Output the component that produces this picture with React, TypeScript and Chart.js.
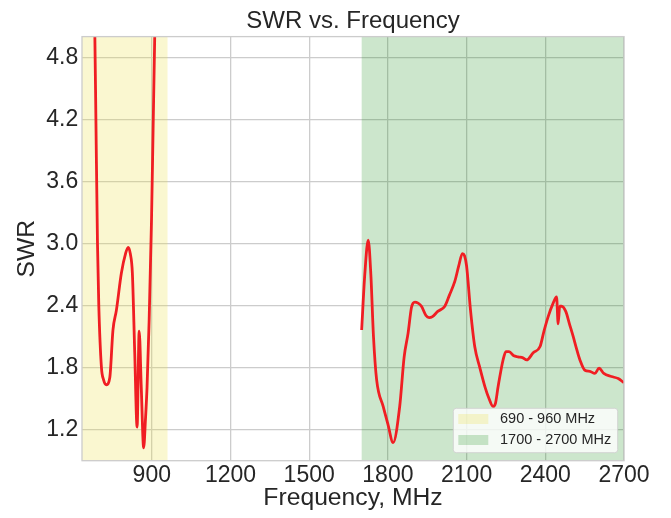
import React, { useEffect, useRef } from "react";
import { Chart, registerables } from "chart.js";

Chart.register(...registerables);

// ---- data ----
const freqMHz = [
  640, 683, 687, 693, 698, 708, 716, 727, 740, 752, 765, 784, 800, 810, 818, 826, 835, 844, 852, 860, 869, 876,
  882, 890, 899, 905, 911, 930,
  1300,
  1700, 1712, 1725, 1735, 1745, 1757, 1782, 1800, 1820, 1845, 1862, 1877, 1890, 1903, 1915, 1928, 1945, 1957,
  1970, 1990, 2017, 2035, 2055, 2070, 2084, 2092, 2100, 2115, 2131, 2150, 2170, 2185, 2201, 2210, 2220, 2239,
  2250, 2262, 2280, 2296, 2315, 2329, 2354, 2380, 2395, 2411, 2430, 2443, 2449, 2455, 2462, 2478, 2492, 2506,
  2520, 2532, 2551, 2570, 2589, 2605, 2623, 2652, 2678, 2700,
];
const swr: (number | null)[] = [
  9.0, 5.0, 4.2, 3.0, 2.4, 1.8, 1.68, 1.63, 1.7, 2.16, 2.35, 2.71, 2.9, 2.96, 2.9, 2.71, 1.94, 1.22, 2.15, 1.6, 1.02, 1.3,
  1.61, 2.26, 3.23, 4.1, 4.97, 8.0,
  null,
  2.16, 2.7, 3.03, 2.7, 2.1, 1.68, 1.42, 1.25, 1.07, 1.42, 1.9, 2.13, 2.38, 2.43, 2.42, 2.39, 2.3, 2.28,
  2.29, 2.34, 2.39, 2.5, 2.63, 2.78, 2.9, 2.88, 2.78, 2.35, 2.0, 1.8, 1.61, 1.5, 1.42, 1.45, 1.61, 1.87,
  1.95, 1.95, 1.91, 1.9, 1.89, 1.87, 1.94, 2.0, 2.15, 2.29, 2.42, 2.48, 2.22, 2.39, 2.39, 2.34, 2.22, 2.1,
  1.97, 1.87, 1.77, 1.76, 1.74, 1.79, 1.74, 1.71, 1.69, 1.65,
];
const xTicks = [900, 1200, 1500, 1800, 2100, 2400, 2700];
const yTicks = [1.2, 1.8, 2.4, 3.0, 3.6, 4.2, 4.8];
const xRange = [634, 2700];
const yRange = [0.895, 5.0];
const bandStarts = [634, 1700];
const bandEnds = [960, 2700];
const bandLabels = ["690 - 960 MHz", "1700 - 2700 MHz"];

// ---- styles ----
const FONT = "'Liberation Sans', Arial, sans-serif";
const TEXT = "#262626";
const GRID = "#cccccc";
const bandColors = ["rgba(235,223,67,0.25)", "rgba(0,128,0,0.2)"];
const LINE = "#f01e23";

const bandsPlugin = {
  id: "bands",
  beforeDatasetsDraw(chart: any) {
    const { ctx, chartArea: a, scales } = chart;
    const x = scales.x;
    ctx.save();
    bandStarts.forEach((s, i) => {
      const x0 = Math.max(x.getPixelForValue(s), a.left);
      const x1 = Math.min(x.getPixelForValue(bandEnds[i]), a.right);
      ctx.fillStyle = bandColors[i];
      ctx.fillRect(x0, a.top, x1 - x0, a.bottom - a.top);
    });
    ctx.restore();
  },
};

const framePlugin = {
  id: "frame",
  afterDatasetsDraw(chart: any) {
    const { ctx, chartArea: a } = chart;
    ctx.save();
    ctx.strokeStyle = GRID;
    ctx.lineWidth = 1.3;
    ctx.strokeRect(a.left, a.top, a.right - a.left, a.bottom - a.top);
    ctx.restore();
  },
};

const legendPlugin = {
  id: "customLegend",
  afterDraw(chart: any) {
    const { ctx, chartArea: a } = chart;
    const w = 164.4;
    const h = 44.4;
    const bx = a.right - 6.3 - w;
    const by = a.bottom - 8 - h;
    ctx.save();
    ctx.beginPath();
    (ctx as any).roundRect(bx, by, w, h, 3);
    ctx.fillStyle = "rgba(255,255,255,0.8)";
    ctx.fill();
    ctx.strokeStyle = "rgba(204,204,204,0.8)";
    ctx.lineWidth = 1;
    ctx.stroke();
    bandLabels.forEach((label, i) => {
      ctx.fillStyle = bandColors[i];
      ctx.fillRect(bx + 5, by + 5.7 + i * 21, 30, 10);
      ctx.fillStyle = TEXT;
      ctx.font = `14.5px ${FONT}`;
      ctx.textBaseline = "middle";
      ctx.textAlign = "left";
      ctx.fillText(label, bx + 46.7, by + 10.7 + i * 21);
    });
    ctx.restore();
  },
};

export default function App() {
  const ref = useRef<HTMLCanvasElement>(null);

  useEffect(() => {
    const canvas = ref.current;
    if (!canvas) return;
    const chart = new Chart(canvas, {
      type: "line",
      data: {
        datasets: [
          {
            label: "SWR",
            data: freqMHz.map((f, i) => ({ x: f, y: swr[i] })) as any,
            borderColor: LINE,
            borderWidth: 2.8,
            pointRadius: 0,
            cubicInterpolationMode: "monotone",
            spanGaps: false,
            clip: 0 as any,
            fill: false,
          },
        ],
      },
      options: {
        animation: false,
        responsive: false,
        devicePixelRatio: 1,
        layout: { padding: { left: 0, right: 47, top: 0, bottom: 0 } },
        plugins: {
          legend: { display: false },
          tooltip: { enabled: false },
          title: {
            display: true,
            text: "SWR vs. Frequency",
            color: TEXT,
            fullSize: false,
            font: { family: FONT, size: 24, weight: "normal" },
            padding: { top: 7.3, bottom: 0.5 },
          },
        },
        scales: {
          x: {
            type: "linear",
            min: xRange[0],
            max: xRange[1],
            afterBuildTicks: (s: any) => {
              s.ticks = xTicks.map((v) => ({ value: v }));
            },
            afterFit: (s: any) => {
              s.height = 57.3;
            },
            ticks: {
              color: TEXT,
              font: { family: FONT, size: 23 },
              padding: 1,
              maxRotation: 0,
              autoSkip: false,
              callback: (v: any) => String(v),
            },
            grid: { color: GRID, lineWidth: 1.3, drawTicks: false },
            border: { display: false },
            title: {
              display: true,
              text: "Frequency, MHz",
              color: TEXT,
              font: { family: FONT, size: 24.7 },
              padding: { top: 0, bottom: 5 },
            },
          },
          y: {
            type: "linear",
            min: yRange[0],
            max: yRange[1],
            afterBuildTicks: (s: any) => {
              s.ticks = yTicks.map((v) => ({ value: v }));
            },
            afterFit: (s: any) => {
              s.width = 82;
            },
            ticks: {
              color: TEXT,
              font: { family: FONT, size: 23 },
              padding: 3.7,
              autoSkip: false,
              callback: (v: any) => Number(v).toFixed(1),
            },
            grid: { color: GRID, lineWidth: 1.3, drawTicks: false },
            border: { display: false },
            title: {
              display: true,
              text: "SWR",
              color: TEXT,
              font: { family: FONT, size: 24.7 },
              padding: { top: 12, bottom: 0 },
            },
          },
        },
      },
      plugins: [bandsPlugin, framePlugin, legendPlugin],
    });
    return () => chart.destroy();
  }, []);

  return (
    <div style={{ position: "absolute", left: 0, top: 0, width: 671, height: 518 }}>
      <canvas ref={ref} width={671} height={518} style={{ display: "block", width: 671, height: 518 }} />
    </div>
  );
}
